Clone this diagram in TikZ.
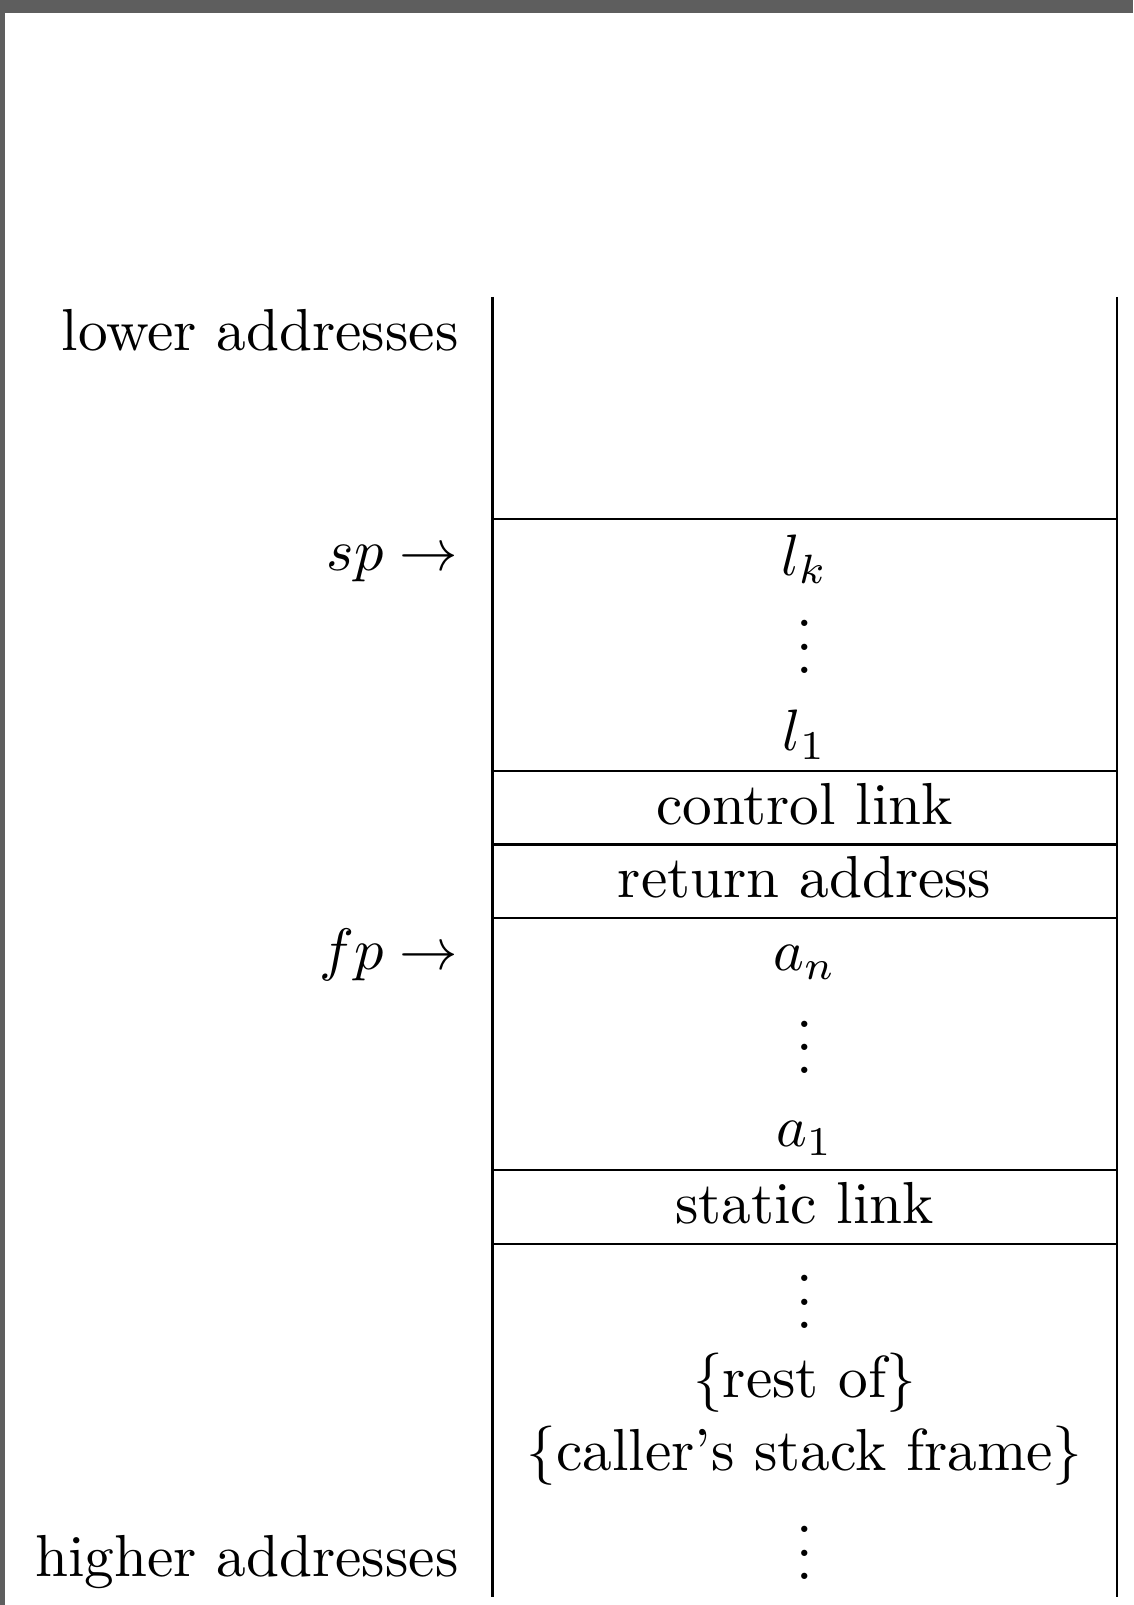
\documentclass[tikz,border=0pt]{standalone}
\usepackage{amsmath,amssymb}
\usepackage{tikz}
\usetikzlibrary{positioning}
\definecolor{framegray}{HTML}{5E5E5E}
\newcommand{\stackdots}{\vbox{\baselineskip4pt\lineskiplimit0pt
  \hbox{.}\hbox{.}\hbox{.}}}

\begin{document}
\begin{tikzpicture}[
  font=\fontsize{10.15pt}{12pt}\selectfont,
  cell/.style={anchor=base,inner sep=0pt},
  side/.style={anchor=base east,inner sep=0pt},
  rule/.style={line width=0.4pt}]
\useasboundingbox (0,0) rectangle (6.818,-9.657);
\fill[framegray] (0,0) rectangle (6.818,-0.078);
\fill[framegray] (0,0) rectangle (0.030,-9.657);
% stack column
\coordinate (tl) at (2.963,-1.786);
\coordinate (tr) at (6.720,-1.786);
\coordinate (bl) at (2.963,-9.608);
\coordinate (br) at (6.720,-9.608);
\draw[rule] (tl) -- (bl); \draw[rule] (tr) -- (br);
\foreach \y in {3.123,4.638,5.081,5.525,7.040,7.483}
  \draw[rule] (tl |- 0,-\y) -- (tr |- 0,-\y);
% labels on the left
\node[side] (lower) at (2.765,-2.106) {lower addresses};
\node[side] (sp) at (2.765,-3.431) {$sp \rightarrow$};
\node[side] (fp) at (2.765,-5.833) {$fp \rightarrow$};
\node[side] (higher) at (2.765,-9.485) {higher addresses};
% frame contents
\node[cell] (lk) at (4.841,-3.461) {$l_k$};
\node[cell] (ldots) at (4.841,-4.053) {\stackdots};
\node[cell] (lone) at (4.841,-4.515) {$l_1$};
\node[cell] (ctrl) at (4.841,-4.958) {control link};
\node[cell] (ret) at (4.841,-5.401) {return address};
\node[cell] (an) at (4.841,-5.839) {$a_n$};
\node[cell] (adots) at (4.841,-6.461) {\stackdots};
\node[cell] (aone) at (4.841,-6.898) {$a_1$};
\node[cell] (static) at (4.841,-7.360) {static link};
\node[cell] (rdots) at (4.841,-7.994) {\stackdots};
\node[cell] (restof) at (4.841,-8.407) {\{rest of\}};
\node[cell] (caller) at (4.841,-8.850) {\{caller's stack frame\}};
\node[cell] (bdots) at (4.841,-9.503) {\stackdots};
\end{tikzpicture}
\end{document}
